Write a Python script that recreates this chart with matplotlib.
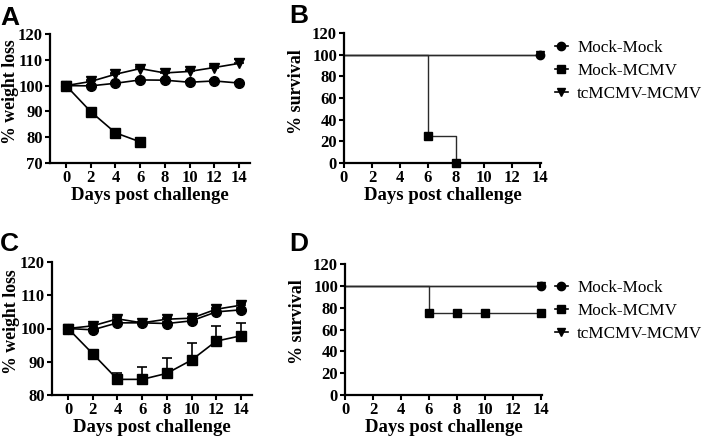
import numpy as np
import matplotlib
matplotlib.use('Agg')
import matplotlib.pyplot as plt
from matplotlib.lines import Line2D

plt.rcParams['font.family'] = ['Liberation Serif', 'DejaVu Serif']
plt.rcParams['font.weight'] = 'bold'

days = [0, 2, 4, 6, 8, 10, 12, 14]
groups = ['Mock-Mock', 'Mock-MCMV', 'tcMCMV-MCMV']
markers = ['o', 's', 'v']

# Panel A - weight (first challenge)
a_mock = [100, 99.9, 100.9, 102.2, 102.1, 101.3, 101.8, 101.0]
a_mock_err = [0, 0.3, 0.3, 0.4, 0.3, 0.3, 0.3, 0.3]
a_mcmv_days = [0, 2, 4, 6]
a_mcmv = [100, 89.9, 81.7, 78.2]
a_mcmv_err = [0, 0.3, 0.4, 0.4]
a_tc = [100, 101.6, 104.4, 106.6, 104.9, 105.5, 107.0, 108.6]
a_tc_err = [0, 0.4, 0.5, 0.6, 0.5, 0.4, 0.5, 1.8]

# Panel C - weight (second challenge)
c_mock = [100, 99.6, 101.7, 101.7, 101.5, 102.3, 105.0, 105.6]
c_mock_err = [0, 0.4, 0.4, 0.3, 0.4, 0.4, 0.4, 0.5]
c_mcmv = [100, 92.4, 84.7, 84.7, 86.5, 90.5, 96.2, 97.8]
c_mcmv_err = [0, 0.4, 2.0, 3.6, 4.5, 5.2, 4.6, 3.9]
c_tc = [100, 100.8, 102.9, 101.7, 102.8, 103.1, 105.8, 107.0]
c_tc_err = [0, 0.5, 0.5, 0.4, 0.5, 0.5, 0.5, 0.6]

# Panel B - survival (step curves + marked points)
b_mock_t, b_mock_s = [0, 14], [100, 100]
b_mock_pts_t, b_mock_pts_s = [14], [100]
b_mcmv_t, b_mcmv_s = [0, 6, 8], [100, 25, 0]
b_mcmv_pts_t, b_mcmv_pts_s = [6, 8], [25, 0]
b_tc_t, b_tc_s = [0, 14], [100, 100]
b_tc_pts_t, b_tc_pts_s = [14], [100]

# Panel D - survival
d_mock_t, d_mock_s = [0, 14], [100, 100]
d_mock_pts_t, d_mock_pts_s = [14], [100]
d_mcmv_t, d_mcmv_s = [0, 6, 14], [100, 75, 75]
d_mcmv_pts_t, d_mcmv_pts_s = [6, 8, 10, 14], [75, 75, 75, 75]
d_tc_t, d_tc_s = [0, 14], [100, 100]
d_tc_pts_t, d_tc_pts_s = [14], [100]

W, H = 714, 446
fig = plt.figure(figsize=(W / 100, H / 100), dpi=100)

def px_axes(l, t, r, b):
    return fig.add_axes([l / W, 1 - b / H, (r - l) / W, (b - t) / H])

def style(ax, label_right, label_cy):
    for s in ['top', 'right']:
        ax.spines[s].set_visible(False)
    for s in ['left', 'bottom']:
        ax.spines[s].set_linewidth(1.6)
    ax.tick_params(direction='out', length=3.5, width=1.5, labelsize=12, pad=1.5)
    for lab in ax.get_xticklabels() + ax.get_yticklabels():
        lab.set_fontweight('bold')
    ax.set_xticks(days)
    ax.set_xlabel('Days post challenge', fontsize=13.5, fontweight='bold', labelpad=1)
    # place y label by pixel position (right edge, vertical centre)
    bb = ax.get_position()
    x0, y0, w, h = bb.x0 * W, (1 - bb.y1) * H, bb.width * W, bb.height * H
    ax.yaxis.set_label_coords((label_right - x0) / w, 1 - (label_cy - y0) / h)

def weight(ax, data, ylim, yticks, lab_r, lab_cy):
    for (x, y, e), m in zip(data, markers):
        ax.errorbar(x, y, yerr=[np.zeros(len(e)), e], color='black', marker=m,
                    ms=7, lw=1.2, elinewidth=1.2, capsize=3.5, capthick=1.2,
                    clip_on=False, zorder=3)
    ax.set_ylim(*ylim)
    ax.set_yticks(yticks)
    ax.set_xlim(-1.3, 14.9)
    ax.set_ylabel('% weight loss', fontsize=12.8, fontweight='bold')
    style(ax, lab_r, lab_cy)

def survival(ax, curves, lab_r, lab_cy):
    for (t, s, pt, ps), m in zip(curves, markers):
        ax.step(t, s, where='post', color='#2a2a2a', lw=1.0, clip_on=False, zorder=2)
        ax.plot(pt, ps, ls='none', marker=m, color='black', ms=6, clip_on=False, zorder=3)
    ax.set_ylim(0, 120)
    ax.set_yticks(range(0, 121, 20))
    ax.set_xlim(0, 14.1)
    ax.set_ylabel('% survival', fontsize=13, fontweight='bold')
    style(ax, lab_r, lab_cy)

def legend(y):
    handles = [Line2D([], [], color='black', marker=m, ms=6, lw=1.2) for m in markers]
    fig.legend(handles, groups, loc='upper left', bbox_to_anchor=(555 / W, 1 - y / H),
               frameon=False, handlelength=0.75, handletextpad=0.55, labelspacing=0.42,
               borderpad=0, borderaxespad=0,
               prop={'family': 'Liberation Serif', 'weight': 'normal', 'size': 12.3})

axA = px_axes(50, 34, 250, 163)
weight(axA, [(days, a_mock, a_mock_err), (a_mcmv_days, a_mcmv, a_mcmv_err),
             (days, a_tc, a_tc_err)], (70, 120), range(70, 121, 10), 19, 92)

axB = px_axes(344, 33, 541, 163)
survival(axB, [(b_mock_t, b_mock_s, b_mock_pts_t, b_mock_pts_s),
               (b_mcmv_t, b_mcmv_s, b_mcmv_pts_t, b_mcmv_pts_s),
               (b_tc_t, b_tc_s, b_tc_pts_t, b_tc_pts_s)], 305, 92)
legend(40)

axC = px_axes(52, 262, 252, 395)
weight(axC, [(days, c_mock, c_mock_err), (days, c_mcmv, c_mcmv_err),
             (days, c_tc, c_tc_err)], (80, 120), range(80, 121, 10), 20, 322)

axD = px_axes(345, 264, 542, 395)
survival(axD, [(d_mock_t, d_mock_s, d_mock_pts_t, d_mock_pts_s),
               (d_mcmv_t, d_mcmv_s, d_mcmv_pts_t, d_mcmv_pts_s),
               (d_tc_t, d_tc_s, d_tc_pts_t, d_tc_pts_s)], 306, 322)
legend(280)

for lab, x, y in [('A', 0, 6), ('B', 289, 4), ('C', 0, 232), ('D', 289, 232)]:
    fig.text(x / W, 1 - y / H, lab, ha='left', va='top', fontsize=19,
             fontweight='bold', family='Liberation Sans')

fig.savefig('out.png', dpi=100)
